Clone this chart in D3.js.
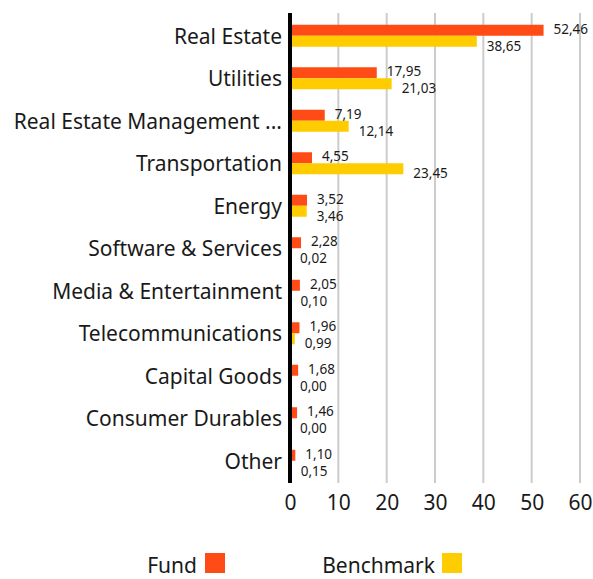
<!DOCTYPE html>
<html>
<head>
<meta charset="utf-8">
<script src="https://cdn.jsdelivr.net/npm/d3@7"></script>
<style>
  body { margin: 0; background: #fff; }
  text { font-family: "Noto Sans", sans-serif; fill: #1a1a1a; }
</style>
</head>
<body>
<div id="chart"></div>
<script>
// Data
const categories = ["Real Estate", "Utilities", "Real Estate Management ...", "Transportation", "Energy",
  "Software & Services", "Media & Entertainment", "Telecommunications", "Capital Goods",
  "Consumer Durables", "Other"];
const fundValues = [52.46, 17.95, 7.19, 4.55, 3.52, 2.28, 2.05, 1.96, 1.68, 1.46, 1.10];
const benchValues = [38.65, 21.03, 12.14, 23.45, 3.46, 0.02, 0.10, 0.99, 0.00, 0.00, 0.15];
const xTicks = [0, 10, 20, 30, 40, 50, 60];
const seriesNames = ["Fund", "Benchmark"];
const colors = ["#ff4c17", "#ffcc00"];

const W = 593, H = 579;
const svg = d3.select("#chart").append("svg")
  .attr("width", W).attr("height", H);

const x = d3.scaleLinear().domain([0, 60]).range([290, 580]);
const y = d3.scaleBand().domain(categories).range([14.5, 482]);
const barH = 11;
const fmt = v => v.toFixed(2).replace(".", ",");

// Gridlines
svg.append("g").selectAll("line")
  .data(xTicks.slice(1))
  .enter().append("line")
  .attr("x1", d => x(d)).attr("x2", d => x(d))
  .attr("y1", 13).attr("y2", 483)
  .attr("stroke", "#cccccc").attr("stroke-width", 2);

// X axis tick labels
const xAxis = svg.append("g")
  .attr("transform", "translate(0,502)")
  .call(d3.axisBottom(x).tickValues(xTicks).tickSize(0).tickPadding(0));
xAxis.select(".domain").remove();
xAxis.selectAll("text")
  .attr("dy", "0.36em")
  .style("font-size", "21px")
  .style("font-family", "'Noto Sans', sans-serif")
  .attr("fill", "#1a1a1a");

// Category labels
const yAxis = svg.append("g")
  .attr("transform", "translate(282,1.5)")
  .call(d3.axisLeft(y).tickSize(0).tickPadding(0));
yAxis.select(".domain").remove();
yAxis.selectAll("text")
  .style("font-size", "21px")
  .style("font-family", "'Noto Sans', sans-serif")
  .attr("fill", "#1a1a1a");

const mid = d => y(d) + y.bandwidth() / 2;

// Bars
const rows = categories.map((c, i) => ({ c, f: fundValues[i], b: benchValues[i] }));

svg.append("g").selectAll("rect")
  .data(rows).enter().append("rect")
  .attr("x", x(0)).attr("y", d => mid(d.c) - barH)
  .attr("width", d => x(d.f) - x(0)).attr("height", barH)
  .attr("fill", colors[0]);

svg.append("g").selectAll("rect")
  .data(rows).enter().append("rect")
  .attr("x", x(0)).attr("y", d => mid(d.c))
  .attr("width", d => x(d.b) - x(0)).attr("height", barH)
  .attr("fill", colors[1]);

// Value labels
svg.append("g").selectAll("text")
  .data(rows).enter().append("text")
  .attr("x", d => x(d.f) + 10).attr("y", d => mid(d.c) - barH / 2 - 1)
  .attr("dy", "0.35em")
  .style("font-size", "13.5px")
  .text(d => fmt(d.f));

svg.append("g").selectAll("text")
  .data(rows).enter().append("text")
  .attr("x", d => x(d.b) + 10).attr("y", d => mid(d.c) + barH / 2 + 5)
  .attr("dy", "0.35em")
  .style("font-size", "13.5px")
  .text(d => fmt(d.b));

// Axis line
svg.append("line")
  .attr("x1", x(0)).attr("x2", x(0))
  .attr("y1", 13).attr("y2", 483)
  .attr("stroke", "#000").attr("stroke-width", 4);

// Legend
const legend = [
  { name: seriesNames[0], color: colors[0], textX: 197, boxX: 205 },
  { name: seriesNames[1], color: colors[1], textX: 435, boxX: 442 }
];
const lg = svg.append("g").selectAll("g").data(legend).enter().append("g");
lg.append("text")
  .attr("x", d => d.textX).attr("y", 565)
  .attr("dy", "0.36em").attr("text-anchor", "end")
  .style("font-size", "21px")
  .text(d => d.name);
lg.append("rect")
  .attr("x", d => d.boxX).attr("y", 553)
  .attr("width", 20).attr("height", 20)
  .attr("fill", d => d.color);
</script>
</body>
</html>
